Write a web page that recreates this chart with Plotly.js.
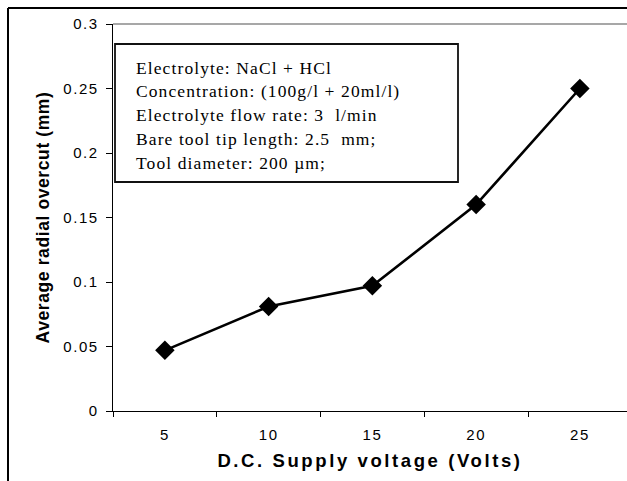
<!DOCTYPE html>
<html>
<head>
<meta charset="utf-8">
<script src="https://cdn.plot.ly/plotly-3.0.1.min.js"></script>
<style>
  html, body { margin: 0; padding: 0; background: #fff; }
  #chart { width: 627px; height: 481px; }
  g.xtick text, g.ytick text { letter-spacing: 1.6px; }
  text.xtitle { letter-spacing: 2.6px; }
  text.ytitle { letter-spacing: 0.6px; }
  text.annotation-text { letter-spacing: 1.1px; }
</style>
</head>
<body>
<div id="chart"></div>
<script>
// ---- data ----
const voltage = [5, 10, 15, 20, 25];
const overcut = [0.047, 0.081, 0.097, 0.160, 0.250];
const xTickVals = [5, 10, 15, 20, 25];
const xTickText = ['5', '10', '15', '20', '25'];
const yTickVals = [0, 0.05, 0.1, 0.15, 0.2, 0.25, 0.3];
const yTickText = ['0', '0.05', '0.1', '0.15', '0.2', '0.25', '0.3'];
const boxLines = [
  'Electrolyte: NaCl + HCl',
  'Concentration: (100g/l + 20ml/l)',
  'Electrolyte flow rate: 3 \u00a0l/min',
  'Bare tool tip length: 2.5 \u00a0mm;',
  'Tool diameter: 200 \u00b5m;'
];
const xTitle = 'D.C. Supply voltage (Volts)';
const yTitle = 'Average radial overcut (mm)';

// ---- layout geometry (pixels) ----
const W = 627, H = 481;
const M = {l: 113, r: 0, t: 24, b: 70};
const PW = W - M.l - M.r, PH = H - M.t - M.b;
const px = x => (x - M.l) / PW;            // pixel x -> paper
const py = y => (H - M.b - y) / PH;        // pixel y -> paper

const shapes = [
  {type: 'line', xref: 'paper', yref: 'paper', x0: 0, x1: 1, y0: 1, y1: 1,
   line: {color: '#8a8a8a', width: 1.5}},
  {type: 'rect', xref: 'paper', yref: 'paper', x0: px(115), x1: px(458), y0: py(182), y1: py(44),
   line: {color: '#111', width: 1.8}, fillcolor: 'rgba(0,0,0,0)'},
  {type: 'line', xref: 'paper', yref: 'paper', x0: px(8), x1: px(8), y0: py(8), y1: py(H + 5),
   line: {color: '#000', width: 2}},
  {type: 'line', xref: 'paper', yref: 'paper', x0: px(8), x1: px(W + 5), y0: py(8), y1: py(8),
   line: {color: '#000', width: 2}}
];

const annotations = boxLines.map((t, i) => ({
  text: t, xref: 'paper', yref: 'paper', x: px(134), y: py(67.5 + i * 23.8),
  xanchor: 'left', yanchor: 'middle', showarrow: false,
  font: {family: 'Liberation Serif, Times New Roman, serif', size: 17.5, color: '#000'}
}));

const trace = {
  x: voltage, y: overcut, type: 'scatter', mode: 'lines+markers',
  line: {color: '#000', width: 2.6},
  marker: {symbol: 'diamond', size: 15, color: '#000'},
  showlegend: false, hoverinfo: 'skip'
};

const tickFont = {family: 'Liberation Sans, Arial, sans-serif', size: 15, color: '#000'};
const layout = {
  width: W, height: H,
  margin: {l: M.l, r: M.r, t: M.t, b: M.b, pad: 0},
  paper_bgcolor: '#fff', plot_bgcolor: '#fff',
  showlegend: false,
  xaxis: {
    range: [2.5, 27.27], tickmode: 'array', tickvals: xTickVals, ticktext: xTickText,
    ticks: '', showline: true, linecolor: '#000', linewidth: 1.2,
    showgrid: false, zeroline: false, fixedrange: true,
    tickfont: tickFont, ticklabelstandoff: 10,
    minor: {ticks: 'outside', tick0: 2.5, dtick: 5, ticklen: 5, tickcolor: '#000', tickwidth: 1, showgrid: false},
    title: {text: xTitle, standoff: 11,
            font: {family: 'Liberation Sans, Arial, sans-serif', size: 18.5, color: '#000', weight: 'bold'}}
  },
  yaxis: {
    range: [0, 0.3], tickmode: 'array', tickvals: yTickVals, ticktext: yTickText,
    ticks: 'outside', ticklen: 6, tickcolor: '#000', tickwidth: 1,
    showline: true, linecolor: '#000', linewidth: 1.2,
    showgrid: false, zeroline: false, fixedrange: true,
    tickfont: tickFont, ticklabelstandoff: 4,
    title: {text: yTitle, standoff: 9,
            font: {family: 'Liberation Sans, Arial, sans-serif', size: 17.5, color: '#000', weight: 'bold'}}
  },
  shapes: shapes,
  annotations: annotations
};

Plotly.newPlot('chart', [trace], layout, {displayModeBar: false, staticPlot: true});
</script>
</body>
</html>
